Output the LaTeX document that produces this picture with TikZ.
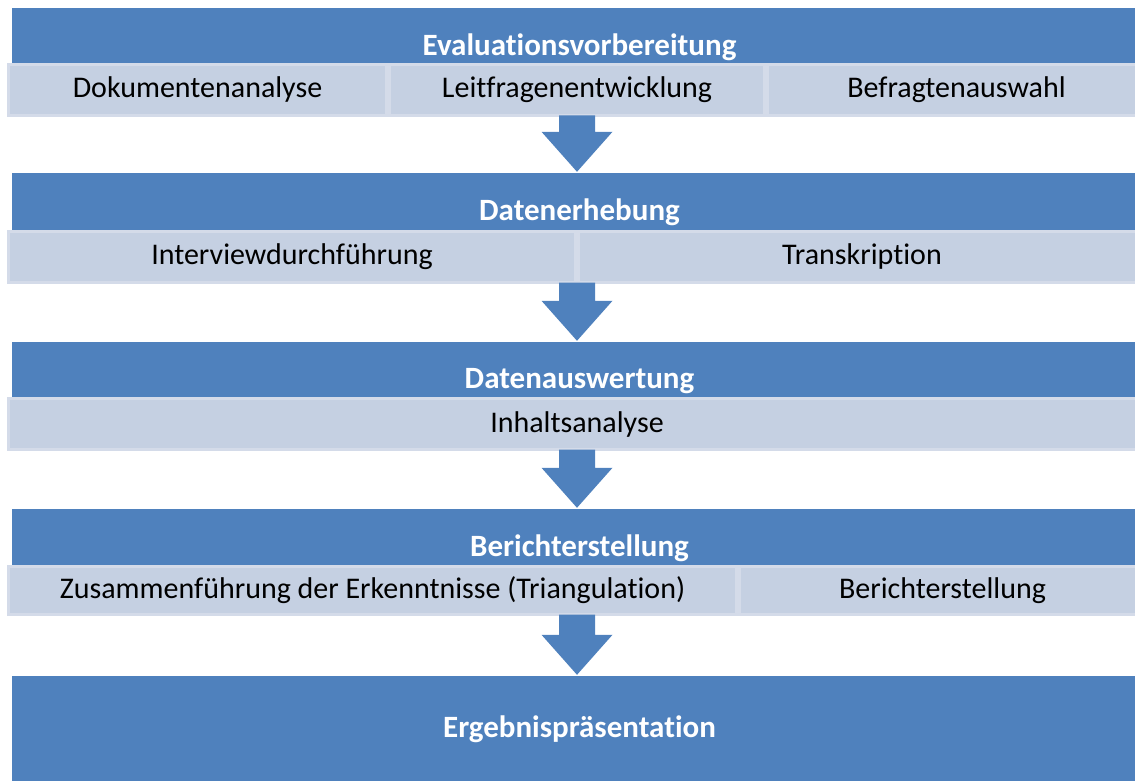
\documentclass[tikz,border=0pt]{standalone}
\usepackage{fontspec}
\setmainfont[Ligatures=NoCommon]{Carlito}
\usetikzlibrary{calc}
\definecolor{bandblue}{RGB}{79,129,189}
\definecolor{cellfill}{RGB}{197,208,226}
\definecolor{cellline}{RGB}{212,219,233}
\tikzstyle{band} = [rectangle, fill=bandblue, text=white, inner sep=0pt, minimum width=1135pt, minimum height=78pt, font=\fontsize{31}{36}\selectfont\bfseries]
\tikzstyle{cell} = [rectangle, fill=cellfill, draw=cellline, line width=3pt, inner sep=0pt, minimum height=51pt, font=\fontsize{30}{36}\selectfont]
% block arrow from the strip #1 down to the band #2
\newcommand{\blockarrow}[2]{%
  \fill[bandblue] ($(ax|-#1.south)+(-18,-1.5)$) -- ($(ax|-#1.south)+(18,-1.5)$)
    -- ($(ax|-#2.north)+(18,-41)$) -- ($(ax|-#2.north)+(35.5,-41)$)
    -- ($(ax|-#2.north)+(0,-1)$) -- ($(ax|-#2.north)+(-35.5,-41)$)
    -- ($(ax|-#2.north)+(-18,-41)$) -- cycle;}

\begin{document}
\begin{tikzpicture}[x=1pt, y=-1pt]
\useasboundingbox (0,0) rectangle (1135,781);
\clip (0,0) rectangle (1135,781);
\coordinate (ax) at (577,0);

% blue bands
\node[band] (B1) at (579.5,47) {Evaluationsvorbereitung};
\node[band] (B2) at (579.5,212) {Datenerhebung};
\node[band] (B3) at (579.5,381) {Datenauswertung};
\node[band] (B4) at (579.5,548) {Berichterstellung};
\node[band, minimum height=106pt] (B5) at (579.5,729) {Ergebnispräsentation};

% light strips
\node[cell, minimum width=378pt] (C11) at (197.5,90) {Dokumentenanalyse};
\node[cell, minimum width=375pt] (C12) at (577,90) {Leitfragenentwicklung};
\node[cell, minimum width=378pt] (C13) at (956.5,90) {Befragtenauswahl};

\node[cell, minimum width=567pt] (C21) at (292,257) {Interviewdurchführung};
\node[cell, minimum width=567pt] (C22) at (862,257) {Transkription};

\node[cell, minimum width=1137pt] (C31) at (577,424) {Inhaltsanalyse};

\node[cell, minimum width=728pt, minimum height=48pt] (C41) at (372.5,590.5) {Zusammenführung der Erkenntnisse (Triangulation)};
\node[cell, minimum width=406pt, minimum height=48pt] (C42) at (942.5,590.5) {Berichterstellung};

% arrows
\blockarrow{C12}{B2}
\blockarrow{C21}{B3}
\blockarrow{C31}{B4}
\blockarrow{C41}{B5}
\end{tikzpicture}
\end{document}
